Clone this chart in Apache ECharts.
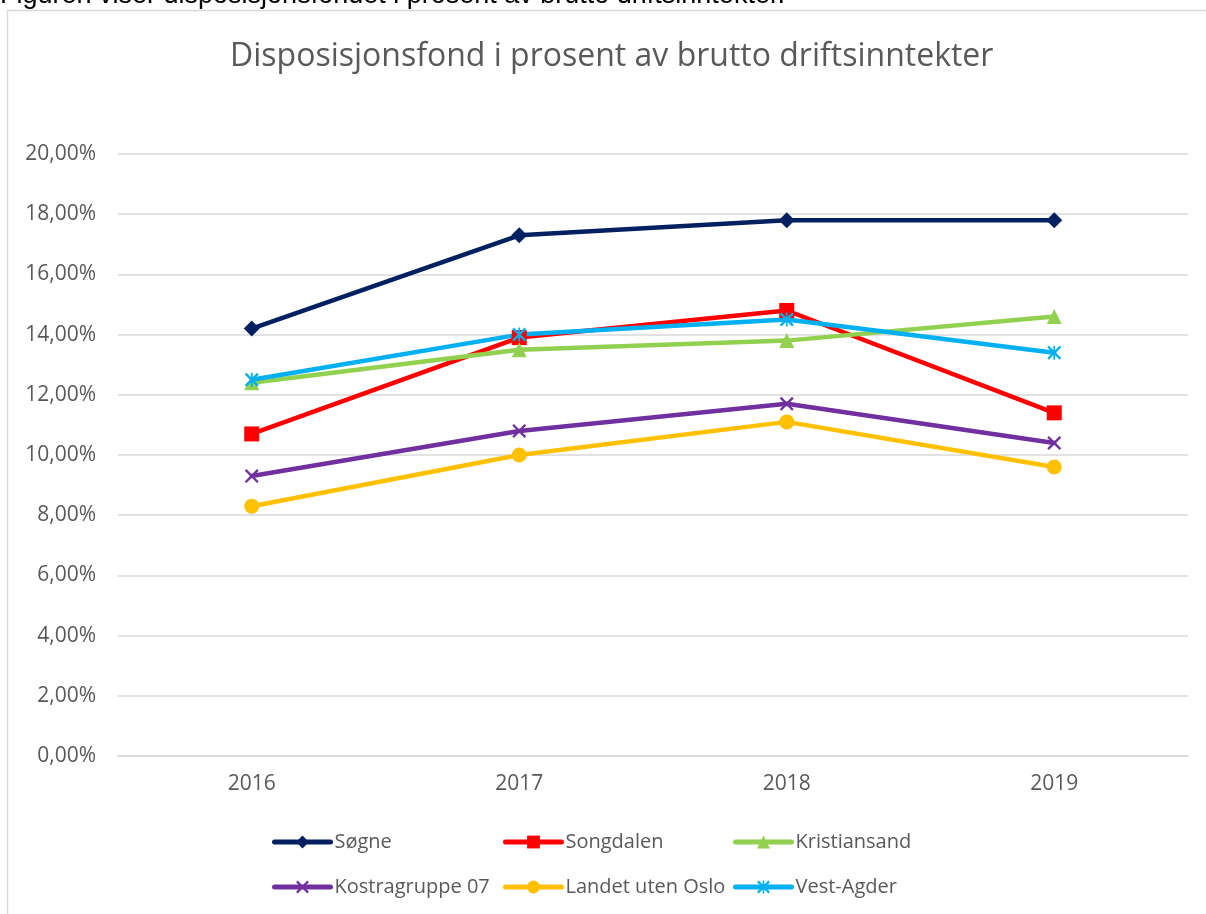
<!DOCTYPE html>
<html>
<head>
<meta charset="utf-8">
<script src="https://cdn.jsdelivr.net/npm/echarts@6/dist/echarts.min.js"></script>
<style>
html, body { margin: 0; padding: 0; background: #fff; }
#main { width: 1206px; height: 914px; }
</style>
</head>
<body>
<div id="main"></div>
<script>
// 年份
var years = ['2016', '2017', '2018', '2019'];
// 各系列数值 (%)
var sogne = [14.2, 17.3, 17.8, 17.8];
var songdalen = [10.7, 13.9, 14.8, 11.4];
var kristiansand = [12.4, 13.5, 13.8, 14.6];
var kostra07 = [9.3, 10.8, 11.7, 10.4];
var landet = [8.3, 10.0, 11.1, 9.6];
var vestAgder = [12.5, 14.0, 14.5, 13.4];
var seriesNames = ['Søgne', 'Songdalen', 'Kristiansand', 'Kostragruppe 07', 'Landet uten Oslo', 'Vest-Agder'];

var textColor = '#595959';
var fontName = '"Open Sans", sans-serif';

// 标记形状
var xPath = 'path://M0,1.2L1.2,0L10,8.8L8.8,10Z M8.8,0L10,1.2L1.2,10L0,8.8Z';
var starPath = 'path://M0,1.2L1.2,0L10,8.8L8.8,10Z M8.8,0L10,1.2L1.2,10L0,8.8Z M4.4,0L5.6,0L5.6,10L4.4,10Z';

function makeSeries(name, data, color, symbol, size) {
	return {
		name: name,
		type: 'line',
		data: data,
		symbol: symbol,
		symbolSize: size,
		lineStyle: { color: color, width: 4.5, cap: 'round', join: 'round' },
		itemStyle: { color: color },
		z: 3
	};
}

// 图例位置
var legendPos = [[272, 832], [503, 832], [733, 832], [272, 877], [503, 877], [733, 877]];
var legends = [];
for (var i = 0; i < seriesNames.length; i++) {
	legends.push({
		data: [seriesNames[i]],
		left: legendPos[i][0],
		top: legendPos[i][1],
		padding: 0,
		itemWidth: 56,
		itemHeight: 16,
		itemGap: 0,
		lineStyle: { width: 5, cap: 'round' },
		textStyle: { color: textColor, fontSize: 20, fontFamily: fontName, lineHeight: 20, padding: [0, 0, 0, -1] }
	});
}

var myChart = echarts.init(document.getElementById('main'));
var option = {
	animation: false,
	backgroundColor: '#fff',
	title: {
		text: 'Disposisjonsfond i prosent av brutto driftsinntekter',
		left: 230,
		top: 41,
		padding: 0,
		textStyle: { color: textColor, fontSize: 32, fontWeight: 'normal', fontFamily: fontName }
	},
	graphic: [
		{
			type: 'rect',
			z: -10,
			shape: { x: 7.5, y: 10.5, width: 1210, height: 920 },
			style: { fill: '#fff', stroke: '#d9d9d9', lineWidth: 1.5 }
		},
		{
			type: 'text',
			left: 0,
			top: -18,
			style: {
				text: 'Figuren viser disposisjonsfondet i prosent av brutto driftsinntekter.',
				fill: '#000',
				font: '27px "Liberation Sans", Arial, sans-serif'
			}
		}
	],
	legend: legends,
	grid: { left: 118, right: 18, top: 154, bottom: 158 },
	xAxis: {
		type: 'category',
		data: years,
		boundaryGap: true,
		axisLine: { lineStyle: { color: '#d9d9d9', width: 1.5 } },
		axisTick: { show: false },
		axisLabel: { color: textColor, fontSize: 21, fontFamily: fontName, margin: 18 }
	},
	yAxis: {
		type: 'value',
		min: 0,
		max: 20,
		interval: 2,
		axisLine: { show: false },
		axisTick: { show: false },
		splitLine: { lineStyle: { color: '#d9d9d9', width: 1.5 } },
		axisLabel: {
			color: textColor,
			fontSize: 21,
			fontFamily: fontName,
			margin: 22,
			formatter: function (v) { return v.toFixed(2).replace('.', ',') + '%'; }
		}
	},
	series: [
		makeSeries(seriesNames[0], sogne, '#002060', 'diamond', 16),
		makeSeries(seriesNames[1], songdalen, '#ff0000', 'rect', 15),
		makeSeries(seriesNames[2], kristiansand, '#92d050', 'triangle', 15),
		makeSeries(seriesNames[3], kostra07, '#7030a0', xPath, 14),
		makeSeries(seriesNames[4], landet, '#ffc000', 'circle', 15),
		makeSeries(seriesNames[5], vestAgder, '#00b0f0', starPath, 14)
	]
};
myChart.setOption(option);
</script>
</body>
</html>
